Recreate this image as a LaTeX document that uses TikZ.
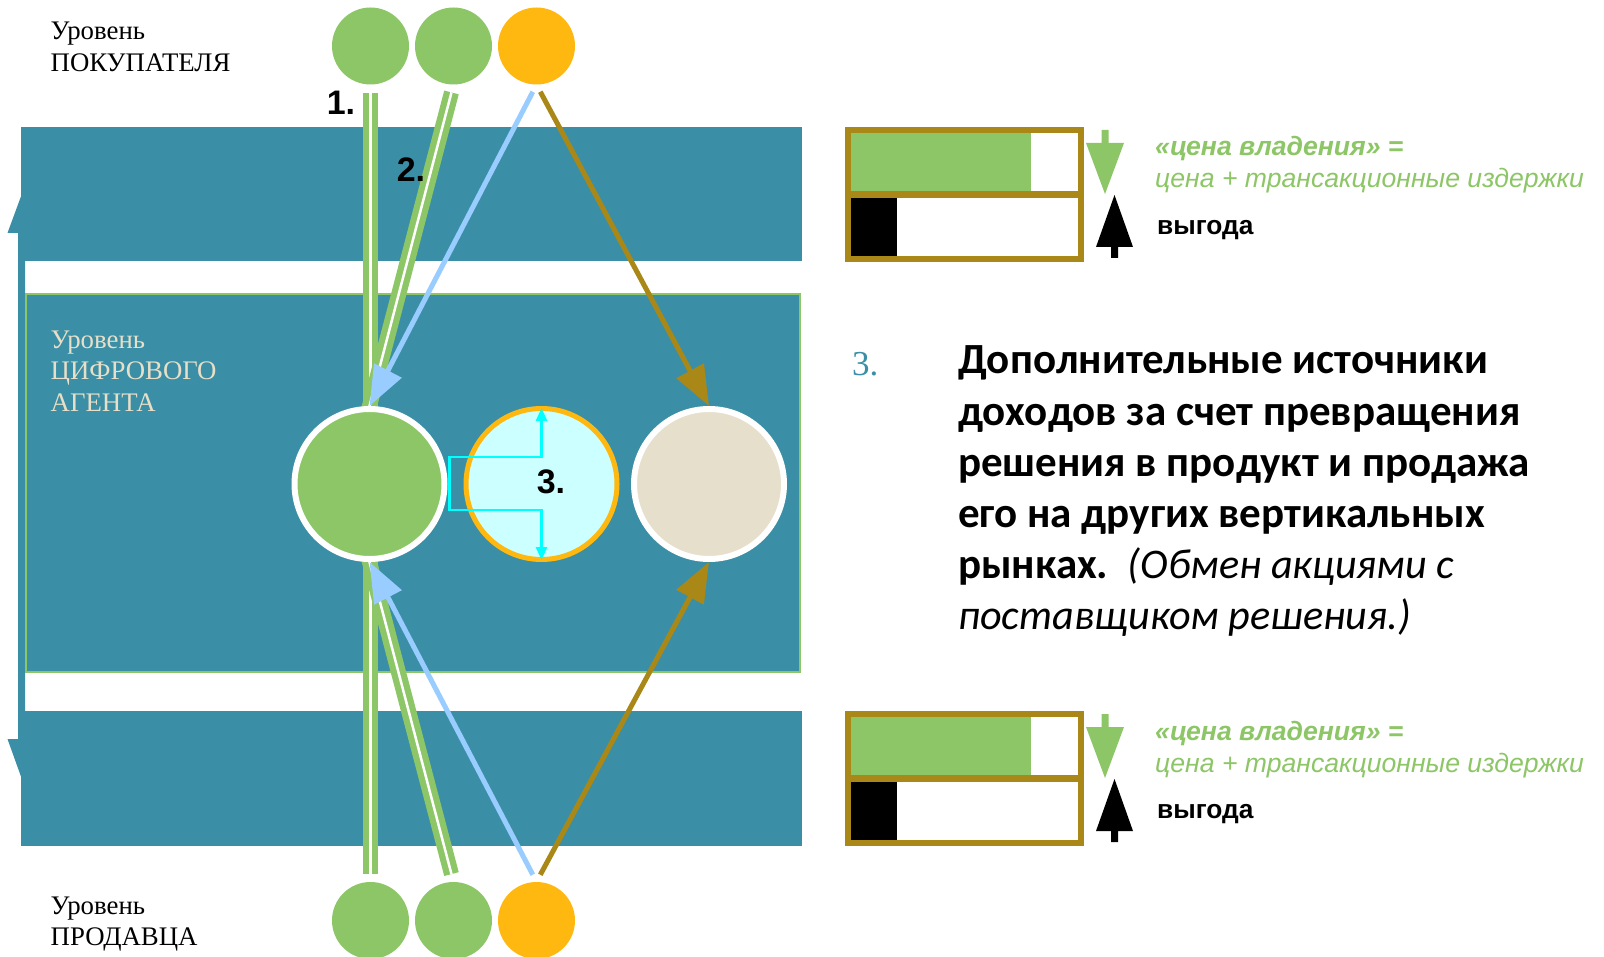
\documentclass[tikz,border=0pt]{standalone}
\usepackage{fontspec}
\setmainfont{Liberation Serif}
\newfontfamily\arialf{Liberation Sans}
\newfontfamily\calibf{Carlito}
\usetikzlibrary{arrows.meta,calc}
\definecolor{teal1}{HTML}{3A8FA6}
\definecolor{leaf}{HTML}{8DC666}
\definecolor{amber}{HTML}{FFB80F}
\definecolor{icecyan}{HTML}{CCFFFF}
\definecolor{sand}{HTML}{E6DFCB}
\definecolor{sky}{HTML}{99CCFF}
\definecolor{gold}{HTML}{A98817}
\definecolor{labeltan}{HTML}{E8DFC8}
\definecolor{aqua}{HTML}{00FFFF}
\pgfdeclarelayer{bands}
\pgfdeclarelayer{links}
\pgfsetlayers{bands,links,main}
\tikzset{
  smalldot/.style={circle, fill=#1, minimum size=77pt, inner sep=0pt},
  bigdot/.style={circle, fill=#1, draw=white, line width=6pt, minimum size=150pt, inner sep=0pt},
  dbl/.style={draw=leaf, line width=6.25pt, double=white, double distance=2.5pt},
  tipline/.style={draw=#1, line width=5pt, -{Triangle[length=40pt,width=30pt]}},
  levellabel/.style={anchor=base west, inner sep=0pt, font=\fontsize{26.8}{31}\selectfont},
  numlabel/.style={inner sep=0pt, font=\arialf\bfseries\fontsize{34}{38}\selectfont},
  legend/.style={anchor=base west, inner sep=0pt, text=leaf, font=\arialf\itshape\fontsize{26.6}{30}\selectfont},
  bigline/.style={anchor=base west, inner sep=0pt, font=\calibf\bfseries\fontsize{43}{51}\selectfont},
}
\begin{document}
\begin{tikzpicture}[x=1pt,y=-1pt]
\useasboundingbox (0,0) rectangle (1604,957);

% --- level bands and the vertical double arrow ---
\begin{pgfonlayer}{bands}
\fill[white] (0,0) rectangle (1604,957);
\fill[teal1] (21.5,195) -- (35.5,233) -- (25,233) -- (25,739) -- (35.5,739)
  -- (21.5,778) -- (7.5,739) -- (18,739) -- (18,233) -- (7.5,233) -- cycle;
\fill[teal1] (21,127) rectangle (802,261);
\fill[teal1] (21,711) rectangle (802,846);
\filldraw[fill=teal1, draw=leaf, line width=2pt] (26,294) rectangle (800,672);
\end{pgfonlayer}

% --- participants ---
\node[smalldot=leaf]  (b1) at (370.5,46) {};
\node[smalldot=leaf]  (b2) at (453.5,46) {};
\node[smalldot=amber] (b3) at (536.5,46) {};
\node[smalldot=leaf]  (s1) at (370.5,920.5) {};
\node[smalldot=leaf]  (s2) at (453.5,920.5) {};
\node[smalldot=amber] (s3) at (536.5,920.5) {};

\node[bigdot=leaf] (m1) at (369.5,484) {};
\node[circle, fill=icecyan, draw=amber, line width=5pt, minimum size=151pt, inner sep=0pt] (m2) at (541.5,484) {};
\node[bigdot=sand] (m3) at (709,484) {};

% --- connections ---
\begin{pgfonlayer}{links}
\draw[dbl, shorten <=8pt, shorten >=8pt] (b1.south) -- (s1.north);
\draw[dbl, shorten <=8pt, shorten >=-4pt] (b2.south) -- (m1.north);
\draw[dbl, shorten <=8pt, shorten >=-4pt] (s2.north) -- (m1.south);
\draw[tipline=sky,  shorten <=8pt] (b3.south) -- (m1.north);
\draw[tipline=gold, shorten <=8pt] (b3.south) -- (m3.north);
\draw[tipline=sky,  shorten <=8pt] (s3.north) -- (m1.south);
\draw[tipline=gold, shorten <=8pt] (s3.north) -- (m3.south);
\end{pgfonlayer}

\draw[aqua, line width=2.7pt, {Triangle[length=13pt,width=11pt]}-{Triangle[length=13pt,width=11pt]}]
  ($(m2.north)+(0,2)$) -- ($(m2)+(0,-27)$) -- ($(m2)+(-92,-27)$)
  -- ($(m2)+(-92,26)$) -- ($(m2)+(0,26)$) -- ($(m2.south)+(0,-2)$);

\node[numlabel] (n1) at (341,102.5) {1.};
\node[numlabel] (n2) at (411,170) {2.};
\node[numlabel] (n3) at (551,481.5) {3.};

% --- level captions ---
\node[levellabel] (lb1) at (50.5,40) {Уровень};
\node[levellabel] (lb2) at (50.5,72) {ПОКУПАТЕЛЯ};
\node[levellabel, text=labeltan] (la1) at (50.5,348.5) {Уровень};
\node[levellabel, text=labeltan] (la2) at (50.5,380) {ЦИФРОВОГО};
\node[levellabel, text=labeltan] (la3) at (50.5,411.5) {АГЕНТА};
\node[levellabel] (ls1) at (50.5,914) {Уровень};
\node[levellabel] (ls2) at (50.5,945.5) {ПРОДАВЦА};

% --- cost / benefit gauges ---
\foreach \dy/\nm in {0/top,584/bot}{
  \begin{scope}[yshift=-\dy pt]
  \fill[leaf] (851,133) rectangle (1031,191);
  \fill[black] (851,198) rectangle (897,256);
  \draw[gold, line width=6pt] (848,130) rectangle (1081,259);
  \draw[gold, line width=7pt] (848,194.5) -- (1081,194.5);
  \fill[leaf] (1101.5,130) -- (1108.5,130) -- (1108.5,143) -- (1124,143)
    -- (1105,194) -- (1086,143) -- (1101.5,143) -- cycle;
  \fill[black] (1114.5,195) -- (1133,247) -- (1118,247) -- (1118,258)
    -- (1111,258) -- (1111,247) -- (1096,247) -- cycle;
  \node[legend, font=\arialf\bfseries\itshape\fontsize{26.6}{30}\selectfont] (own\nm) at (1155,156) {«цена владения» =};
  \node[legend] (sum\nm) at (1155,188) {цена + трансакционные издержки};
  \node[legend, text=black, font=\arialf\bfseries\fontsize{26.3}{30}\selectfont] (gain\nm) at (1157,234.5) {выгода};
  \end{scope}
}

% --- explanation ---
\node[anchor=base west, inner sep=0pt, text=teal1, font=\fontsize{35}{40}\selectfont] (num) at (852,376) {3.};
\node[bigline] (t1) at (958,374) {Дополнительные источники};
\node[bigline] (t2) at (958,425) {доходов за счет превращения};
\node[bigline] (t3) at (958,476) {решения в продукт и продажа};
\node[bigline] (t4) at (958,527) {его на других вертикальных};
\node[bigline] (t5) at (958,578) {рынках.\ \ {\mdseries\itshape\fontsize{42.2}{51}\selectfont (Обмен акциями с}};
\node[bigline, font=\calibf\itshape\fontsize{42.2}{51}\selectfont] (t6) at (958,629) {поставщиком решения.)};
\end{tikzpicture}
\end{document}
